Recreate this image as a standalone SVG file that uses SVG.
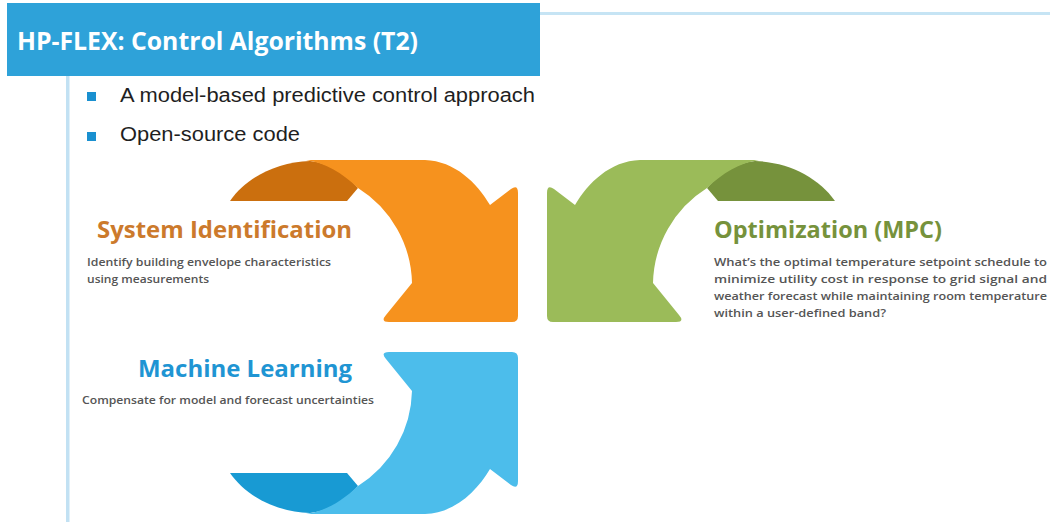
<svg xmlns="http://www.w3.org/2000/svg" xmlns:xlink="http://www.w3.org/1999/xlink" width="1050" height="522" viewBox="0 0 1050 522">
<style>
.title{font-family:"Open Sans","DejaVu Sans",sans-serif;font-weight:700;font-size:25px;fill:#ffffff}
.bul{font-family:"Liberation Sans",Arial,sans-serif;font-size:20px;fill:#1f1f1f}
.head{font-family:"Open Sans","DejaVu Sans",sans-serif;font-weight:700;font-size:24px}
.body{font-family:"Open Sans","DejaVu Sans",sans-serif;font-weight:600;font-size:11.5px;fill:#555555}
</style>
<defs>
<path id="arcDark" d="M 230,201 C 246,178 276,162 310,161 C 328,163 345,173 358,188 L 347,201 Z"/>
<path id="arcLight" d="M 306,160 L 425,160 C 455,161 477,183 490,205 L 511,189 Q 518,184 518,193 L 518,316 Q 518,322 512,322 L 389,322 Q 380,322 386,315 L 412,283 A 115 115 0 0 0 358,188 C 342,173 326,163 306,160 Z"/>
</defs>
<rect x="0" y="0" width="1050" height="522" fill="#ffffff"/>
<g id="frame">
<rect x="540" y="12" width="510" height="3" fill="#c6e4f4"/>
<rect x="66" y="76" width="3.5" height="446" fill="#c2e1f3"/>
</g>
<g id="title">
<rect x="7" y="3" width="533" height="73" fill="#2ea2d9"/>
<text class="title" x="17" y="50" textLength="401" lengthAdjust="spacingAndGlyphs">HP-FLEX: Control Algorithms (T2)</text>
</g>
<g id="bullets">
<rect x="87" y="92" width="9" height="9" fill="#1a90d0"/>
<text class="bul" x="120" y="102" textLength="415" lengthAdjust="spacingAndGlyphs">A model-based predictive control approach</text>
<rect x="87" y="132" width="9" height="9" fill="#1a90d0"/>
<text class="bul" x="120" y="141" textLength="180" lengthAdjust="spacingAndGlyphs">Open-source code</text>
</g>
<g id="connectors">
<g id="arrow-orange">
<use xlink:href="#arcDark" fill="#cb6f0e"/>
<use xlink:href="#arcLight" fill="#f6921e"/>
</g>
<g id="arrow-green" transform="translate(1065,0) scale(-1,1)">
<use xlink:href="#arcDark" fill="#76923c"/>
<use xlink:href="#arcLight" fill="#9bbb59"/>
</g>
<g id="arrow-blue" transform="translate(0,674) scale(1,-1)">
<use xlink:href="#arcDark" fill="#189ad3"/>
<use xlink:href="#arcLight" fill="#4cbdeb"/>
</g>
</g>
<g id="node-sysid">
<text class="head" x="97" y="238" fill="#cc7a2c" textLength="255" lengthAdjust="spacingAndGlyphs">System Identification</text>
<text class="body" x="87" y="266" textLength="244" lengthAdjust="spacingAndGlyphs">Identify building envelope characteristics</text>
<text class="body" x="87" y="283" textLength="122" lengthAdjust="spacingAndGlyphs">using measurements</text>
</g>
<g id="node-opt">
<text class="head" x="714" y="238" fill="#76923c" textLength="228" lengthAdjust="spacingAndGlyphs">Optimization (MPC)</text>
<text class="body" x="714" y="266" textLength="333" lengthAdjust="spacingAndGlyphs">What’s the optimal temperature setpoint schedule to</text>
<text class="body" x="714" y="283" textLength="333" lengthAdjust="spacingAndGlyphs">minimize utility cost in response to grid signal and</text>
<text class="body" x="714" y="300" textLength="333" lengthAdjust="spacingAndGlyphs">weather forecast while maintaining room temperature</text>
<text class="body" x="714" y="317" textLength="172" lengthAdjust="spacingAndGlyphs">within a user-defined band?</text>
</g>
<g id="node-ml">
<text class="head" x="138" y="377" fill="#1f95d3" textLength="214" lengthAdjust="spacingAndGlyphs">Machine Learning</text>
<text class="body" x="82" y="404" textLength="292" lengthAdjust="spacingAndGlyphs">Compensate for model and forecast uncertainties</text>
</g>
</svg>
